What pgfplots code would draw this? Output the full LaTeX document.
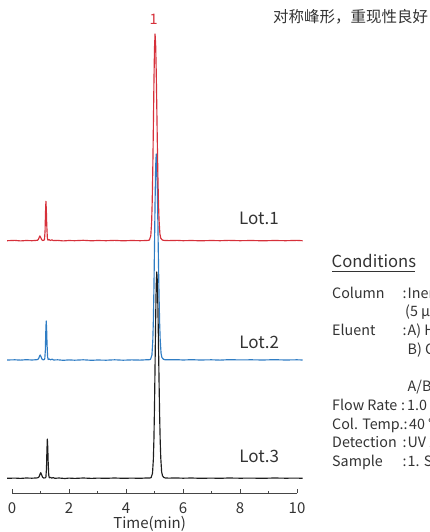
\documentclass[border=0pt]{standalone}
\usepackage{fontspec}
\setmainfont{Noto Sans CJK SC}
\usepackage{pgfplots}
\pgfplotsset{compat=1.18}
\usepackage{pgfplotstable}
\definecolor{cred}{RGB}{214,48,58}
\definecolor{cblue}{RGB}{47,125,196}
\definecolor{cblack}{RGB}{30,30,30}
\definecolor{ctext}{RGB}{51,51,51}
\definecolor{axisgray}{RGB}{70,70,70}

\pgfplotstableread{
x y
-0.17 0.0
0.10 0.3
0.30 -0.2
0.50 0.2
0.70 0.0
0.85 0.3
0.90 0.5
0.93 1.5
0.96 3.8
0.98 4.8
1.01 3.0
1.04 1.0
1.08 0.2
1.12 0.5
1.14 1.2
1.16 9.7
1.175 27.6
1.19 39.4
1.205 30.9
1.22 15.4
1.24 3.0
1.26 0.5
1.30 1.2
1.34 0.2
1.40 0.9
1.45 0.1
1.60 0.3
1.80 -0.2
2.00 0.2
2.20 0.0
2.50 0.4
2.80 -0.1
3.00 0.2
3.30 0.0
3.60 0.3
3.90 -0.1
4.20 0.2
4.50 0.0
4.70 0.2
4.77 0.3
4.82 0.6
4.87 5.0
4.90 19.0
4.92 39.4
4.94 71.5
4.96 113.6
4.98 158.0
5.00 192.8
5.02 206.7
5.04 196.5
5.06 170.4
5.08 134.5
5.10 96.6
5.12 63.1
5.14 37.5
5.16 20.3
5.19 6.7
5.22 2.5
5.27 0.8
5.32 0.3
5.50 0.1
5.80 0.3
6.00 0.0
6.30 0.2
6.60 -0.1
7.00 0.2
7.30 0.0
7.60 0.3
8.00 0.0
8.40 0.2
8.80 -0.1
9.20 0.2
9.60 0.0
10.00 0.3
10.20 0.0
}\redtab

\pgfplotstableread{
x y
-0.17 0.0
0.10 0.2
0.30 -0.1
0.50 0.3
0.70 0.0
0.86 0.3
0.91 0.6
0.94 1.8
0.97 4.2
0.99 5.0
1.02 3.2
1.05 1.0
1.09 0.2
1.13 0.4
1.15 1.2
1.17 9.7
1.185 27.6
1.20 39.0
1.215 30.9
1.23 15.4
1.25 3.0
1.27 0.5
1.31 1.0
1.35 0.2
1.41 0.8
1.46 0.0
1.60 0.2
1.80 -0.3
2.00 0.1
2.20 -0.2
2.50 0.2
2.80 -0.3
3.00 0.0
3.30 -0.2
3.60 0.2
3.90 -0.2
4.20 0.1
4.50 -0.1
4.70 0.2
4.81 0.3
4.86 0.6
4.91 5.0
4.94 19.0
4.96 39.4
4.98 71.5
5.00 113.6
5.02 158.0
5.04 192.8
5.06 206.0
5.08 196.5
5.10 170.4
5.12 134.5
5.14 96.6
5.16 63.1
5.18 37.5
5.20 20.3
5.23 6.7
5.26 2.5
5.31 0.8
5.36 0.3
5.50 0.2
5.80 0.3
6.00 0.0
6.30 0.3
6.60 0.0
7.00 0.2
7.30 -0.1
7.60 0.3
8.00 0.1
8.40 0.2
8.80 0.0
9.20 0.3
9.60 0.0
10.00 0.2
10.20 0.0
}\bluetab

\pgfplotstableread{
x y
-0.17 0.0
0.10 0.2
0.30 -0.1
0.50 0.3
0.70 0.1
0.88 0.4
0.93 0.8
0.96 2.2
0.99 4.6
1.01 5.6
1.04 3.5
1.07 1.2
1.11 0.3
1.17 0.5
1.19 1.2
1.21 9.7
1.225 27.6
1.24 39.3
1.255 30.9
1.27 15.4
1.29 3.0
1.31 0.5
1.35 1.0
1.39 0.2
1.45 0.7
1.50 0.0
1.65 0.3
1.85 -0.2
2.00 0.2
2.20 -0.1
2.50 0.3
2.80 -0.1
3.00 0.2
3.30 0.0
3.60 0.3
3.90 0.0
4.20 0.2
4.50 0.0
4.70 0.3
4.83 0.3
4.88 0.6
4.93 5.0
4.96 19.0
4.98 39.4
5.00 71.5
5.02 113.6
5.04 158.0
5.06 192.8
5.08 206.3
5.10 196.5
5.12 170.4
5.14 134.5
5.16 96.6
5.18 63.1
5.20 37.5
5.22 20.3
5.25 6.7
5.28 2.5
5.33 0.8
5.38 0.3
5.50 0.2
5.80 0.3
6.00 0.1
6.30 0.3
6.60 0.0
7.00 0.2
7.30 0.0
7.60 0.3
8.00 0.1
8.40 0.2
8.80 0.0
9.20 0.3
9.60 0.1
10.00 0.2
10.20 0.0
}\blacktab

\begin{document}
\begin{tikzpicture}
\begin{axis}[
  x=28.5bp, y=1bp,
  xmin=0, xmax=10, ymin=0, ymax=460,
  axis x line=bottom, axis y line=none,
  x axis line style={-, draw=axisgray, line width=0.8bp},
  clip=false,
  xtick={0,2,4,6,8,10},
  minor xtick={1,3,5,7,9},
  tick align=inside,
  major tick length=3.5bp, minor tick length=2.4bp,
  tick style={draw=axisgray, line width=0.8bp},
  /pgf/number format/assume math mode=true,
  xticklabel style={anchor=center, yshift=-15bp, font=\fontsize{15bp}{18bp}\selectfont, text=ctext},
  xlabel={Time(min)},
  xlabel style={at={(axis description cs:0.483,0)}, anchor=center, yshift=-31bp, font=\fontsize{15bp}{18bp}\selectfont, text=ctext},
]
\addplot[cblack, line width=1.15bp, line join=round] table[x=x, y expr=\thisrow{y}+14.7] {\blacktab};
\addplot[cblue, line width=1.15bp, line join=round] table[x=x, y expr=\thisrow{y}+133] {\bluetab};
\addplot[cred, line width=1.15bp, line join=round] table[x=x, y expr=\thisrow{y}+252.3] {\redtab};
\end{axis}

\begin{scope}[every node/.style={inner sep=0pt, text=ctext}]
\node[anchor=center, font=\fontsize{14.5bp}{16bp}\selectfont, text=cred] at (141.7bp,473.5bp) {1};
\node[anchor=west, font=\fontsize{15.5bp}{18bp}\selectfont] at (261bp,476bp) {对称峰形，重现性良好};
\node[anchor=center, font=\fontsize{17bp}{20bp}\selectfont] at (247bp,274.7bp) {Lot.1};
\node[anchor=center, font=\fontsize{17bp}{20bp}\selectfont] at (247.3bp,150.3bp) {Lot.2};
\node[anchor=center, font=\fontsize{17bp}{20bp}\selectfont] at (247.3bp,36.3bp) {Lot.3};
\end{scope}

\begin{scope}
\clip (-12bp,-39bp) rectangle (418bp,493bp);
\begin{scope}[every node/.style={inner sep=0pt, text=ctext, anchor=base west, font=\fontsize{14.3bp}{18bp}\selectfont}]
\node[font=\fontsize{16.6bp}{20bp}\selectfont] at (319.5bp,225.7bp) {Conditions};
\draw[ctext, line width=0.8bp] (320bp,222.0bp) -- (402.5bp,222.0bp);
\node at (320bp,194.7bp) {Column};
\node at (390.5bp,194.7bp) {:};
\node at (395.5bp,194.7bp) {InertSustain C18};
\node at (393bp,176.0bp) {(5 μm, 150 × 4.6 mm I.D.)};
\node at (320bp,157.3bp) {Eluent};
\node at (390.5bp,157.3bp) {:};
\node at (395.5bp,157.3bp) {A) H$_2$O (0.1\% H$_3$PO$_4$)};
\node at (395.5bp,138.6bp) {B) CH$_3$CN};
\node at (395.5bp,101.2bp) {A/B = 70/30, v/v};
\node at (320bp,82.5bp) {Flow Rate};
\node at (389bp,82.5bp) {:};
\node at (395bp,82.5bp) {1.0 mL/min};
\node at (320bp,63.8bp) {Col. Temp.:\kern1.5bp 40 ℃};
\node at (320bp,45.1bp) {Detection};
\node at (390.5bp,45.1bp) {:};
\node at (395.5bp,45.1bp) {UV 254 nm};
\node at (320bp,26.4bp) {Sample};
\node at (390.5bp,26.4bp) {:};
\node at (395.5bp,26.4bp) {1. Sample};
\end{scope}
\end{scope}

\pgfresetboundingbox
\path[use as bounding box] (-12bp,-39bp) rectangle (418bp,493bp);
\end{tikzpicture}
\end{document}
